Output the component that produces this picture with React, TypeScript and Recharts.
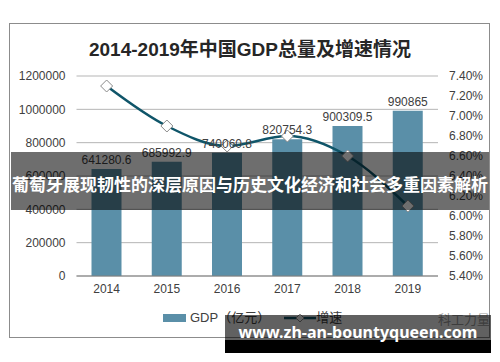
import React from "react";
import {
	ComposedChart,
	Bar,
	Line,
	XAxis,
	YAxis,
	CartesianGrid,
	LabelList,
} from "recharts";

// values
const years = ["2014", "2015", "2016", "2017", "2018", "2019"];
const gdp = [641280.6, 685992.9, 740060.8, 820754.3, 900309.5, 990865];
const growth = [7.3, 6.9, 6.7, 6.8, 6.6, 6.1];
const gdpTicks = [0, 200000, 400000, 600000, 800000, 1000000, 1200000];
const growthTicks = [5.4, 5.6, 5.8, 6.0, 6.2, 6.4, 6.6, 6.8, 7.0, 7.2, 7.4];

const title = "2014-2019年中国GDP总量及增速情况";
const banner = "葡萄牙展现韧性的深层原因与历史文化经济和社会多重因素解析";
const site = "www.zh-an-bountyqueen.com";

const BAR = "#5a8fa8";
const LINE = "#0f5569";
const FONT = '"Liberation Sans", Arial, "Noto Sans CJK SC", sans-serif';

const chartData = years.map((year, i) => ({
	year,
	gdp: gdp[i],
	growth: growth[i],
}));

const Diamond = (props: any) => {
	const { cx, cy, index } = props;
	if (cx == null || cy == null) return <g key={index} />;
	const r = 6;
	return (
		<polygon
			key={index}
			points={`${cx},${cy - r} ${cx + r},${cy} ${cx},${cy + r} ${cx - r},${cy}`}
			fill="#fff"
			stroke="#8a8a8a"
			strokeWidth={1}
		/>
	);
};

export default function App() {
	return (
		<div
			style={{
				position: "absolute",
				left: 0,
				top: 0,
				width: 500,
				height: 362,
				background: "#fff",
				fontFamily: FONT,
				overflow: "hidden",
			}}
		>
			{/* outer frame */}
			<div
				style={{
					position: "absolute",
					left: 9,
					top: 23,
					width: 481,
					height: 315,
					border: "1px solid #8c8c8c",
					boxSizing: "border-box",
				}}
			/>
			<div
				style={{
					position: "absolute",
					left: 0,
					top: 38,
					width: 500,
					textAlign: "center",
					fontSize: 19,
					fontWeight: 700,
					color: "#262626",
					fontFamily: '"Liberation Sans", "Noto Sans CJK SC", sans-serif',
					lineHeight: "24px",
				}}
			>
				{title}
			</div>
			<div style={{ position: "absolute", left: 0, top: 0 }}>
				<ComposedChart
					width={500}
					height={362}
					data={chartData}
					margin={{ top: 76, right: 0, left: 0, bottom: 56 }}
				>
					<CartesianGrid
						yAxisId="gdp"
						vertical={false}
						stroke="#b5b5b5"
						strokeWidth={1}
					/>
					<XAxis
						dataKey="year"
						tickLine={false}
						axisLine={{ stroke: "#7f7f7f" }}
						tick={{ fill: "#404040", fontSize: 12, fontFamily: FONT }}
						height={30}
					/>
					<YAxis
						yAxisId="gdp"
						orientation="left"
						width={76.5}
						domain={[0, 1200000]}
						ticks={gdpTicks}
						interval={0}
						tickLine={false}
						axisLine={false}
						tickMargin={5}
						tick={{ fill: "#404040", fontSize: 12, fontFamily: FONT }}
					/>
					<YAxis
						yAxisId="growth"
						orientation="right"
						width={62}
						domain={[5.4, 7.4]}
						ticks={growthTicks}
						interval={0}
						tickLine={false}
						axisLine={false}
						tickMargin={5}
						tick={{ fill: "#404040", fontSize: 12, fontFamily: FONT }}
						tickFormatter={(v) => `${Number(v).toFixed(2)}%`}
					/>
					<Bar
						yAxisId="gdp"
						dataKey="gdp"
						fill={BAR}
						barSize={30}
						isAnimationActive={false}
					>
						<LabelList
							dataKey="gdp"
							position="top"
							offset={5}
							fill="#404040"
							fontSize={12}
							fontFamily={FONT}
						/>
					</Bar>
					<Line
						yAxisId="growth"
						type="monotone"
						dataKey="growth"
						stroke={LINE}
						strokeWidth={2.5}
						dot={Diamond}
						activeDot={false}
						isAnimationActive={false}
					/>
				</ComposedChart>
			</div>
			{/* legend */}
			<div
				style={{
					position: "absolute",
					left: 163,
					top: 310,
					display: "flex",
					alignItems: "center",
					fontSize: 13,
					color: "#404040",
					fontFamily: FONT,
					lineHeight: "16px",
				}}
			>
				<span
					style={{
						display: "inline-block",
						width: 23,
						height: 8,
						background: BAR,
						marginRight: 4,
					}}
				/>
				<span>GDP（亿元）</span>
				<svg width={32} height={12} style={{ marginLeft: 14 }}>
					<line x1={0} y1={6} x2={32} y2={6} stroke={LINE} strokeWidth={2.5} />
					<polygon
						points="16,2 20,6 16,10 12,6"
						fill="#fff"
						stroke="#8a8a8a"
					/>
				</svg>
				<span>增速</span>
			</div>
			<div
				style={{
					position: "absolute",
					left: 438,
					top: 309,
					fontSize: 13,
					color: "#a0a0a0",
					fontFamily: '"Noto Sans CJK SC", sans-serif',
				}}
			>
				科工力量
			</div>
			{/* overlay banner */}
			<div
				style={{
					position: "absolute",
					left: 11,
					top: 152,
					width: 478,
					height: 58,
					background: "rgba(0,0,0,0.57)",
					color: "#fff",
					fontSize: 17,
					fontWeight: 700,
					fontFamily: '"Noto Sans CJK SC", sans-serif',
					display: "flex",
					alignItems: "center",
					justifyContent: "center",
					whiteSpace: "nowrap",
					letterSpacing: 0,
				}}
			>
				<span style={{ marginTop: 4 }}>{banner}</span>
			</div>
			{/* site watermark */}
			<div
				style={{
					position: "absolute",
					left: 225,
					top: 315,
					width: 266,
					height: 38,
					background:
						"linear-gradient(to bottom, rgba(0,0,0,0.62) 0, rgba(0,0,0,0.62) 25px, #000 25px)",
				}}
			/>
			<div
				style={{
					position: "absolute",
					left: 225,
					top: 321,
					width: 266,
					textAlign: "center",
					color: "#fff",
					fontSize: 16,
					fontWeight: 700,
					fontFamily: '"Noto Sans", sans-serif',
					lineHeight: "22px",
				}}
			>
				{site}
			</div>
		</div>
	);
}
